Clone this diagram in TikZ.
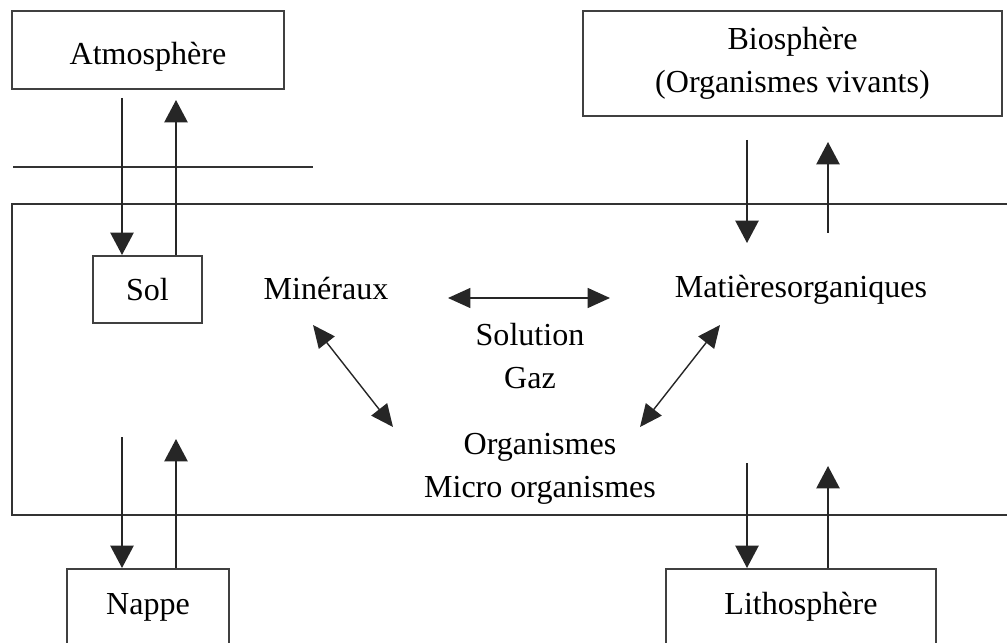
\documentclass[tikz,border=0pt]{standalone}
\usepackage{fontspec}
\setmainfont{Liberation Serif}
\usetikzlibrary{arrows.meta,positioning}
\tikzset{%
box/.style={rectangle, draw=black!75, line width=1.1pt, inner xsep=0pt, inner ysep=0pt, font=\fontsize{22.8}{31}\selectfont},
lbl/.style={inner sep=0pt, align=center, font=\fontsize{22.8}{31}\selectfont},
pt/.style={draw=black!85, line width=1.4pt, -{Triangle[width=0.58cm,length=0.56cm]}},
dbl/.style={draw=black!85, line width=1pt, {Triangle[width=0.5cm,length=0.56cm]}-{Triangle[width=0.5cm,length=0.56cm]}},
frame/.style={draw=black!80, line width=1.4pt}
}

\begin{document}
\begin{tikzpicture}[x=0.025cm, y=-0.025cm]
		\clip (0,0) rectangle (1007,643);
		\useasboundingbox (0,0) rectangle (1007,643);

		% boxes
		\node[box, anchor=north, minimum width=6.8cm, text height=1.35cm, text depth=0.6cm] (atm) at (148,10) {Atmosphère};
		\node[box, anchor=north, minimum width=2.725cm, text height=1.125cm, text depth=0.55cm] (sol) at (147.5,255) {Sol};
		\node[box, anchor=north, minimum width=10.475cm, minimum height=2.625cm, align=center] (bio) at (792.5,10) {Biosphère\\(Organismes vivants)};
		\node[box, anchor=north, minimum width=4.05cm, text height=1.15cm, text depth=2cm] (nappe) at (148,568) {Nappe};
		\node[box, anchor=north, minimum width=6.75cm, text height=1.15cm, text depth=2cm] (litho) at (801,568) {Lithosphère};

		% sol interieur
		\node[lbl, anchor=base] (min) at (326,300) {Minéraux};
		\node[lbl, anchor=base] (mat) at (801,298) {Matièresorganiques};
		\node[lbl] (solgaz) at (530,356) {Solution\\Gaz};
		\node[lbl] (orga) at (540,469) {Organismes\\Micro organismes};

		\draw[frame] (1010,204) -| (12,515) -- (1010,515);
		\draw[frame, line width=1.2pt] (13,167) -- (313,167);

		\coordinate (a1) at (122,98);
		\coordinate (a2) at (176,100);
		\coordinate (b1) at (747,140);
		\coordinate (b2) at (747,243);
		\coordinate (b3) at (828,233);
		\coordinate (b4) at (828,142);
		\coordinate (n1) at (122,437);
		\coordinate (n2) at (176,439);
		\coordinate (l1) at (747,463);
		\coordinate (l2) at (828,466);

		\draw[pt] (a1) -- (a1 |- sol.north);
		\draw[pt] (a2 |- sol.north) -- (a2);
		\draw[pt] (b1) -- (b2);
		\draw[pt] (b3) -- (b4);
		\draw[pt] (n1) -- (n1 |- nappe.north);
		\draw[pt] (n2 |- nappe.north) -- (n2);
		\draw[pt] (l1) -- (l1 |- litho.north);
		\draw[pt] (l2 |- litho.north) -- (l2);

		\coordinate (h1) at (448,298);
		\coordinate (h2) at (610,298);
		\coordinate (d1) at (313,325);
		\coordinate (d2) at (393,427);
		\coordinate (d3) at (720,325);
		\coordinate (d4) at (640,427);

		\draw[dbl] (h1) -- (h2);
		\draw[dbl] (d1) -- (d2);
		\draw[dbl] (d3) -- (d4);
	\end{tikzpicture}
\end{document}
